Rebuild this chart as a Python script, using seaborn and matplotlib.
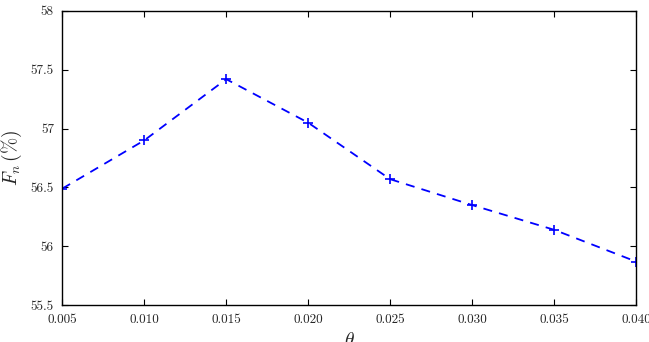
import numpy as np
import matplotlib
matplotlib.use("Agg")
import matplotlib.pyplot as plt
import seaborn as sns
import pandas as pd

theta = [0.005, 0.010, 0.015, 0.020, 0.025, 0.030, 0.035, 0.040]
fn = [56.49, 56.90, 57.42, 57.05, 56.57, 56.35, 56.14, 55.87]
xticks = [0.005, 0.010, 0.015, 0.020, 0.025, 0.030, 0.035, 0.040]
yticks = [55.5, 56, 56.5, 57, 57.5, 58]

sns.set_style("ticks")
plt.rcParams['font.family'] = 'serif'
plt.rcParams['font.serif'] = ['cmr10', 'DejaVu Serif']
plt.rcParams['mathtext.fontset'] = 'cm'
plt.rcParams['axes.unicode_minus'] = False

df = pd.DataFrame({'theta': theta, 'fn': fn})

fig, ax = plt.subplots(figsize=(6.49, 3.42), dpi=100)
sns.lineplot(data=df, x='theta', y='fn', ax=ax, color='blue',
             marker='+', markersize=7.5, markeredgewidth=1.2,
             markeredgecolor='blue', linewidth=1.3)
ax.lines[0].set_linestyle((0, (5, 4)))

ax.set_xlim(0.005, 0.040)
ax.set_ylim(55.5, 58)
ax.set_xticks(xticks)
ax.set_xticklabels([f'{t:.3f}' for t in xticks])
ax.set_yticks(yticks)
ax.set_yticklabels([f'{t:g}' for t in yticks])
ax.tick_params(direction='in', top=True, right=True, labelsize=9.5, length=4,
               color='black', pad=6)
for s in ax.spines.values():
    s.set_visible(True)
    s.set_linewidth(1.0)
    s.set_color('black')

ax.set_xlabel(r'$\theta$', fontsize=14, labelpad=5)
ax.set_ylabel(r'$F_n\,(\%)$', fontsize=14, labelpad=5)

fig.subplots_adjust(left=0.096, right=0.98, top=0.968, bottom=0.108)
fig.savefig('out.png', dpi=100)
